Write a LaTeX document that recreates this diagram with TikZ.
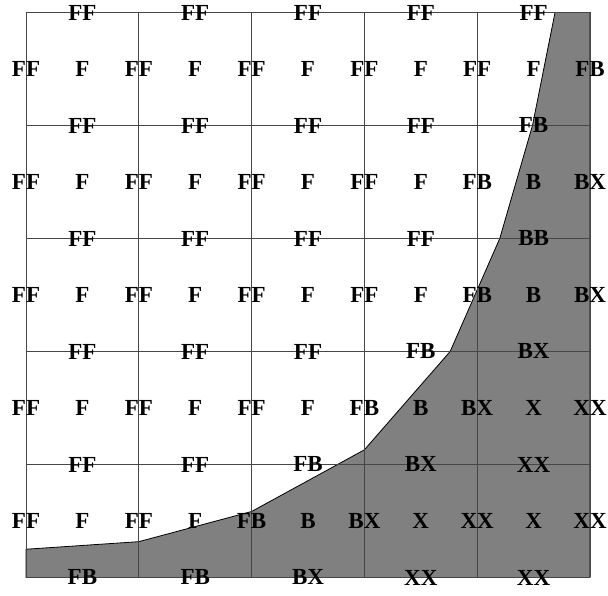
\documentclass[tikz,border=0pt]{standalone}
\usepackage{fontspec}
\setmainfont{Liberation Serif}
\usepackage{tikz}
\definecolor{RegionGray}{RGB}{128, 128, 128}
\definecolor{GridGray}{RGB}{70, 70, 70}
\tikzset{
    celltag/.style={font=\fontsize{23}{23}\selectfont\bfseries, inner sep=0pt},
    gridline/.style={draw=GridGray, line width=0.8pt},
    region/.style={fill=RegionGray, draw=black, line width=0.8pt}
}

\begin{document}
\begin{tikzpicture}[x=112.8pt, y=113pt]
            \useasboundingbox (-0.2305,-0.1549) rectangle (5.1596,5.1106);
            % shaded region
            \filldraw[region] (0,0.25) -- (1,0.317) -- (2,0.584) -- (3,1.13) -- (3.76,2) -- (4.2,3) -- (4.49,4) -- (4.69,5) -- (5,5) -- (5,0) -- (0,0) -- cycle;
            \draw[gridline, step={(1,1)}] (0,0) grid (5,5);
            % labels on horizontal edges
            \foreach \lab [count=\i from 0] in {FB,FB,BX,XX,XX} \node[celltag] (h0\i) at (\i+0.5,0) {\lab};
            \foreach \lab [count=\i from 0] in {FF,FF,FB,BX,XX} \node[celltag] (h1\i) at (\i+0.5,1) {\lab};
            \foreach \lab [count=\i from 0] in {FF,FF,FF,FB,BX} \node[celltag] (h2\i) at (\i+0.5,2) {\lab};
            \foreach \lab [count=\i from 0] in {FF,FF,FF,FF,BB} \node[celltag] (h3\i) at (\i+0.5,3) {\lab};
            \foreach \lab [count=\i from 0] in {FF,FF,FF,FF,FB} \node[celltag] (h4\i) at (\i+0.5,4) {\lab};
            \foreach \lab [count=\i from 0] in {FF,FF,FF,FF,FF} \node[celltag] (h5\i) at (\i+0.5,5) {\lab};
            % labels on vertical edges
            \foreach \lab [count=\i from 0] in {FF,FF,FB,BX,XX,XX} \node[celltag] (v0\i) at (\i,0.5) {\lab};
            \foreach \lab [count=\i from 0] in {FF,FF,FF,FB,BX,XX} \node[celltag] (v1\i) at (\i,1.5) {\lab};
            \foreach \lab [count=\i from 0] in {FF,FF,FF,FF,FB,BX} \node[celltag] (v2\i) at (\i,2.5) {\lab};
            \foreach \lab [count=\i from 0] in {FF,FF,FF,FF,FB,BX} \node[celltag] (v3\i) at (\i,3.5) {\lab};
            \foreach \lab [count=\i from 0] in {FF,FF,FF,FF,FF,FB} \node[celltag] (v4\i) at (\i,4.5) {\lab};
            % labels in cell centres
            \foreach \lab [count=\i from 0] in {F,F,B,X,X} \node[celltag] (c0\i) at (\i+0.5,0.5) {\lab};
            \foreach \lab [count=\i from 0] in {F,F,F,B,X} \node[celltag] (c1\i) at (\i+0.5,1.5) {\lab};
            \foreach \lab [count=\i from 0] in {F,F,F,F,B} \node[celltag] (c2\i) at (\i+0.5,2.5) {\lab};
            \foreach \lab [count=\i from 0] in {F,F,F,F,B} \node[celltag] (c3\i) at (\i+0.5,3.5) {\lab};
            \foreach \lab [count=\i from 0] in {F,F,F,F,F} \node[celltag] (c4\i) at (\i+0.5,4.5) {\lab};
        \end{tikzpicture}
\end{document}
